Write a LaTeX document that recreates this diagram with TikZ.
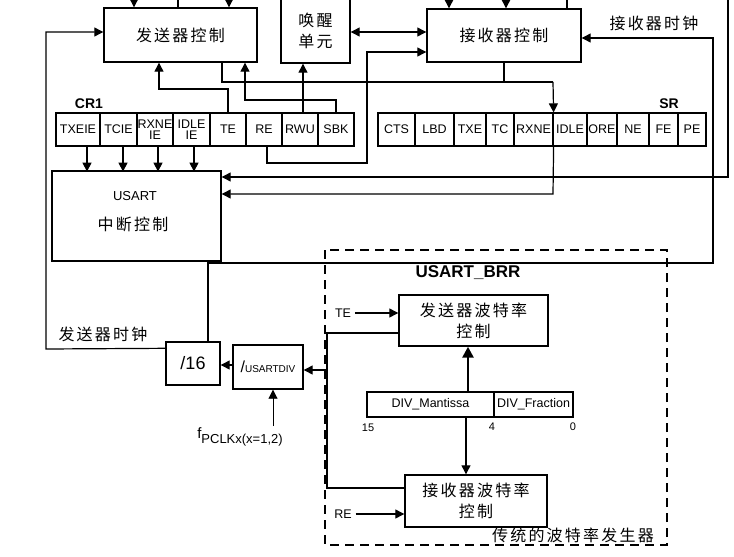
\documentclass[tikz,border=0pt]{standalone}
\usepackage{fontspec}
\setmainfont{Liberation Sans}
\newfontfamily\cjk[LetterSpace=14]{Noto Sans CJK SC}
\usetikzlibrary{arrows.meta}
\begin{document}
\begin{tikzpicture}[x=1pt,y=-1pt,
  line width=1.2pt,
  arr/.style={-{Triangle[length=9pt,width=9pt]}},
  darr/.style={{Triangle[length=9pt,width=9pt]}-{Triangle[length=9pt,width=9pt]}},
  tarr/.style={line width=2.6pt,-{Triangle[length=11pt,width=11pt]}},
  box/.style={draw,line width=1.4pt,inner sep=0pt,align=center,font=\cjk\fontsize{16}{21}\selectfont},
  reg/.style={draw,line width=1.2pt,inner sep=0pt,minimum height=33pt,align=center,font=\fontsize{12.5}{11}\selectfont},
  cn/.style={font=\cjk\fontsize{16}{18}\selectfont},
  lbl/.style={font=\fontsize{12.5}{12}\selectfont},
  bl/.style={font=\bfseries\fontsize{14}{14}\selectfont},
  num/.style={font=\fontsize{11}{11}\selectfont},
  ]
\useasboundingbox (0,0) rectangle (734,557);

% main boxes
\node[box,minimum width=153pt,minimum height=54pt] (tx) at (180.5,35) {发送器控制};
\node[box,minimum width=69pt,minimum height=65pt] (wake) at (315.5,30.5) {唤醒\\单元};
\node[box,minimum width=154pt,minimum height=53pt] (rx) at (504,35.5) {接收器控制};
\node[draw,line width=1.4pt,minimum width=169pt,minimum height=90pt,inner sep=0pt] (irq) at (136.5,216) {};
\node[font=\fontsize{13}{13}\selectfont] (irqa) at (135,196) {USART};
\node[cn] (irqb) at (133,224) {中断控制};
\node[box,font=\fontsize{18}{18}\selectfont,minimum width=54pt,minimum height=43pt] (div16) at (193,363.5) {/16};
\node[box,font=\fontsize{10}{10}\selectfont,minimum width=70pt,minimum height=44pt] (udiv) at (268,367) {{\fontsize{16}{16}\selectfont/}USARTDIV};
\node[box,minimum width=149pt,minimum height=51pt] (txb) at (473.5,320.5) {发送器波特率\\控制};
\node[box,minimum width=142pt,minimum height=52pt] (rxb) at (476,501) {接收器波特率\\控制};
\node[reg,minimum width=127pt,minimum height=25pt] (divm) at (430.5,404.5) {DIV\_Mantissa};
\node[reg,minimum width=79pt,minimum height=25pt] (divf) at (533.5,404.5) {DIV\_Fraction};

% CR1 register
\node[bl] (cr1) at (89,104) {CR1};
\node[reg,minimum width=44pt] (txeie) at (78,129.5) {TXEIE};
\node[reg,minimum width=37pt] (tcie) at (118.5,129.5) {TCIE};
\node[reg,minimum width=36pt] (rxneie) at (155,129.5) {RXNE\\IE};
\node[reg,minimum width=37pt] (idleie) at (191.5,129.5) {IDLE\\IE};
\node[reg,minimum width=36pt] (te) at (228,129.5) {TE};
\node[reg,minimum width=36pt] (re) at (264,129.5) {RE};
\node[reg,minimum width=36pt] (rwu) at (300,129.5) {RWU};
\node[reg,minimum width=36pt] (sbk) at (336,129.5) {SBK};

% SR register
\node[bl] (srl) at (669,104) {SR};
\node[reg,minimum width=37pt] (cts) at (396.5,129.5) {CTS};
\node[reg,minimum width=39pt] (lbd) at (434.5,129.5) {LBD};
\node[reg,minimum width=32pt] (txe) at (470,129.5) {TXE};
\node[reg,minimum width=28pt] (tc) at (500,129.5) {TC};
\node[reg,minimum width=39pt] (rxne) at (533.5,129.5) {RXNE};
\node[reg,minimum width=34pt] (idle) at (570,129.5) {IDLE};
\node[reg,minimum width=30pt] (ore) at (602,129.5) {ORE};
\node[reg,minimum width=32pt] (ne) at (633,129.5) {NE};
\node[reg,minimum width=29pt] (fe) at (663.5,129.5) {FE};
\node[reg,minimum width=28pt] (pe) at (692,129.5) {PE};

% labels
\node[cn] (txclk) at (103,334) {发送器时钟};
\node[cn] (rxclk) at (654,23) {接收器时钟};
\node[cn] (legacy) at (573,535) {传统的波特率发生器};
\node[font=\bfseries\fontsize{17}{17}\selectfont] (brr) at (468,273) {USART\_BRR};
\node[lbl] (telbl) at (343,313) {TE};
\node[lbl] (relbl) at (343,514) {RE};
\node[num] (b15) at (368,428) {15};
\node[num] (b4) at (492,427) {4};
\node[num] (b0) at (573,427) {0};
\node (fclk) at (240,437) {{\fontsize{15}{15}\selectfont f}\raisebox{-5pt}{\fontsize{13}{13}\selectfont PCLKx(x=1,2)}};

% dashed frame
\draw[line width=1.4pt,dash pattern=on 9pt off 6pt] (325,250) rectangle (667,545);

% top stubs
\coordinate (s1) at (134,-2);
\coordinate (s2) at (178,-2);
\coordinate (s3) at (229,-2);
\coordinate (s4) at (449,-2);
\coordinate (s5) at (506,-2);
\coordinate (s6) at (567,-2);
\coordinate (s7) at (728,-2);
\draw[arr] (s1) -- (s1 |- tx.north);
\draw (s2) -- (s2 |- tx.north);
\draw[arr] (s3) -- (s3 |- tx.north);
\draw[arr] (s4) -- (s4 |- rx.north);
\draw[arr] (s5) -- (s5 |- rx.north);
\draw (s6) -- (s6 |- rx.north);

% transmitter clock
\draw[arr] ([yshift=-7pt]div16.north west) -- (46,349) -- (46,32) -- ([yshift=3pt]tx.west);
% receiver clock
\draw[arr] ([xshift=15pt]div16.north) -- (208,263) -- (713,263) -- (713,38) -- ([yshift=-2.5pt]rx.east);

% bus between controls and SR
\draw[line width=2pt] ([xshift=41.5pt]tx.south) -- (222,82) -- (553,82);
\draw[line width=1.4pt] (rx.south) -- (504,82);
\draw[arr] (553,82) -- (rxne.north east);

% CR1 to controls
\draw[arr] (te.north) -- (228,89) -- (159,89) -- ([xshift=-21.5pt]tx.south);
\draw[arr] (sbk.north) -- (336,100) -- (245,100) -- ([xshift=64.5pt]tx.south);
\draw[arr] ([xshift=3pt]rwu.north) -- ([xshift=3pt]rwu.north |- wake.south);
\draw[darr] ([yshift=-1.5pt]wake.east) -- ([yshift=3.5pt]rx.west);
\draw[arr] ([xshift=3pt]re.south) -- (267,163) -- (367,163) -- (367,52) -- ([yshift=-16.5pt]rx.west);

% CR1 to interrupt control
\draw[arr] ([xshift=9pt]txeie.south) -- ++(0,25);
\draw[arr] ([xshift=4.5pt]tcie.south) -- ++(0,25);
\draw[arr] ([xshift=3pt]rxneie.south) -- ++(0,25);
\draw[arr] ([xshift=2.5pt]idleie.south) -- ++(0,25);

% status to interrupt control
\draw[arr] (s7) -- (728,177) -- ([yshift=39pt]irq.east);
\draw[arr] (rxne.south east) -- (553,194) -- ([yshift=22pt]irq.east);

% baud rate section
\draw[arr] (telbl.east) -- (telbl.east -| txb.west);
\draw[arr] (relbl.east) -- (relbl.east -| rxb.west);
\draw ([yshift=-12.5pt]txb.west) -- (327,333) -- (327,488) -- ([yshift=13pt]rxb.west);
\coordinate (tap) at (327,370);
\draw[arr] (tap) -- ([yshift=-3pt]udiv.east);
\draw[arr] ([yshift=2pt]udiv.west) -- ([yshift=-1.5pt]div16.east);
\coordinate (fin) at (273,426);
\draw[arr,line width=0.9pt] (fin) -- (fin |- udiv.south);
\draw[tarr] ([xshift=37.5pt]divm.north) -- ([xshift=-5.5pt]txb.south);
\draw[arr] ([xshift=35.5pt]divm.south) -- ([xshift=-10pt]rxb.north);
\end{tikzpicture}
\end{document}
